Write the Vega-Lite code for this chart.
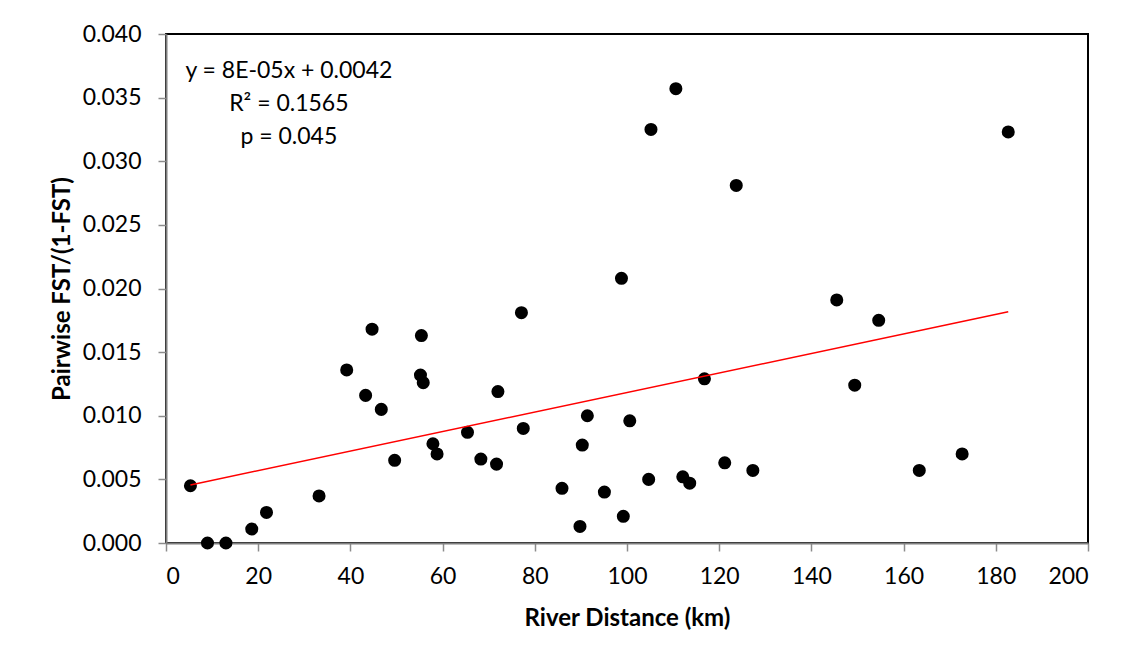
{
  "$schema": "https://vega.github.io/schema/vega-lite/v6.json",
  "autosize": "none",
  "padding": {"left": 166, "top": 34, "right": 42, "bottom": 122},
  "width": 922,
  "height": 509,
  "background": "white",
  "config": {
    "font": "Lato",
    "view": {"stroke": "#000000", "strokeWidth": 2},
    "axis": {
      "grid": false,
      "labelFont": "Lato",
      "labelFontSize": 23,
      "labelColor": "#000000",
      "titleFont": "Lato",
      "titleFontSize": 24,
      "titleFontWeight": "bold",
      "titleColor": "#000000",
      "domainColor": "#7f7f7f",
      "domainWidth": 2,
      "tickColor": "#8c8c8c",
      "tickWidth": 1.5,
      "tickSize": 8,
      "zindex": 1
    }
  },
  "datasets": {
    "pairs": [
      {"distance": 5.3, "fst": 0.0045},
      {"distance": 9.0, "fst": 0.0},
      {"distance": 13.0, "fst": 0.0},
      {"distance": 18.6, "fst": 0.0011},
      {"distance": 21.8, "fst": 0.0024},
      {"distance": 33.2, "fst": 0.0037},
      {"distance": 39.2, "fst": 0.0136},
      {"distance": 43.3, "fst": 0.0116},
      {"distance": 44.7, "fst": 0.0168},
      {"distance": 46.7, "fst": 0.0105},
      {"distance": 49.6, "fst": 0.0065},
      {"distance": 55.4, "fst": 0.0163},
      {"distance": 55.2, "fst": 0.0132},
      {"distance": 55.8, "fst": 0.0126},
      {"distance": 57.9, "fst": 0.0078},
      {"distance": 58.8, "fst": 0.0070},
      {"distance": 65.4, "fst": 0.0087},
      {"distance": 68.3, "fst": 0.0066},
      {"distance": 71.7, "fst": 0.0062},
      {"distance": 72.0, "fst": 0.0119},
      {"distance": 77.1, "fst": 0.0181},
      {"distance": 77.5, "fst": 0.0090},
      {"distance": 85.9, "fst": 0.0043},
      {"distance": 89.8, "fst": 0.0013},
      {"distance": 90.3, "fst": 0.0077},
      {"distance": 91.4, "fst": 0.0100},
      {"distance": 95.1, "fst": 0.0040},
      {"distance": 98.8, "fst": 0.0208},
      {"distance": 99.2, "fst": 0.0021},
      {"distance": 100.6, "fst": 0.0096},
      {"distance": 104.7, "fst": 0.0050},
      {"distance": 105.2, "fst": 0.0325},
      {"distance": 110.6, "fst": 0.0357},
      {"distance": 112.1, "fst": 0.0052},
      {"distance": 113.6, "fst": 0.0047},
      {"distance": 116.8, "fst": 0.0129},
      {"distance": 121.2, "fst": 0.0063},
      {"distance": 123.7, "fst": 0.0281},
      {"distance": 127.3, "fst": 0.0057},
      {"distance": 145.5, "fst": 0.0191},
      {"distance": 149.4, "fst": 0.0124},
      {"distance": 154.6, "fst": 0.0175},
      {"distance": 163.4, "fst": 0.0057},
      {"distance": 172.7, "fst": 0.0070},
      {"distance": 182.7, "fst": 0.0323}
    ],
    "note": [
      {"distance": 26.65, "fst": 0.03656, "label": ["y = 8E-05x + 0.0042", "R² = 0.1565", "p = 0.045"]}
    ]
  },
  "data": {"name": "pairs"},
  "encoding": {
    "x": {
      "field": "distance",
      "type": "quantitative",
      "scale": {"domain": [0, 200], "nice": false, "zero": true},
      "axis": {
        "values": [0, 20, 40, 60, 80, 100, 120, 140, 160, 180, 200],
        "format": "d",
        "labelPadding": 14,
        "title": "River Distance (km)",
        "titlePadding": 18
      }
    },
    "y": {
      "field": "fst",
      "type": "quantitative",
      "scale": {"domain": [0, 0.04], "nice": false},
      "axis": {
        "values": [0, 0.005, 0.01, 0.015, 0.02, 0.025, 0.03, 0.035, 0.04],
        "format": ".3f",
        "labelPadding": 17,
        "title": "Pairwise FST/(1-FST)",
        "titlePadding": 8
      }
    }
  },
  "layer": [
    {
      "mark": {"type": "point", "filled": true, "shape": "circle", "size": 170, "color": "#000000", "opacity": 1}
    },
    {
      "transform": [{"regression": "fst", "on": "distance"}],
      "mark": {"type": "line", "color": "#ff0000", "strokeWidth": 1.5}
    },
    {
      "data": {"name": "note"},
      "mark": {"type": "text", "font": "Lato", "fontSize": 23, "align": "center", "baseline": "alphabetic", "lineHeight": 33, "color": "#000000"},
      "encoding": {
        "text": {"field": "label"}
      }
    }
  ]
}
